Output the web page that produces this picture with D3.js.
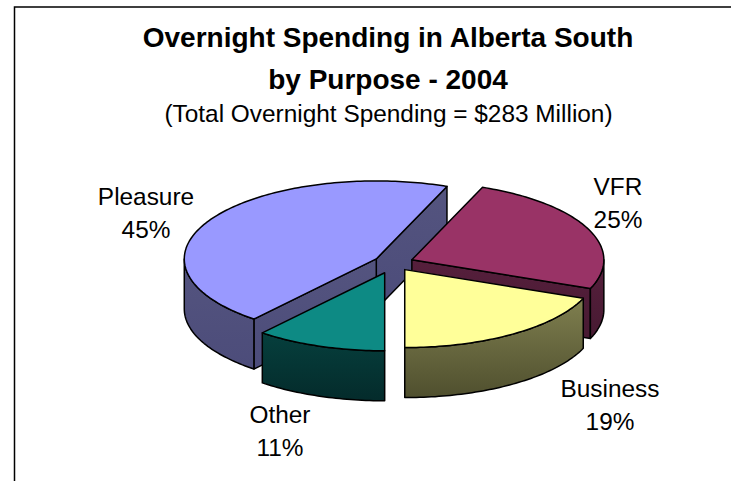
<!DOCTYPE html>
<html>
<head>
<meta charset="utf-8">
<script src="https://d3js.org/d3.v7.min.js"></script>
<style>
    html, body { margin: 0; padding: 0; background: #fff; }
    svg { display: block; }
    text { font-family: "Liberation Sans", Arial, sans-serif; fill: #000; }
</style>
</head>
<body>
<div id="chart"></div>
<script>
// chart values
var purposes = ["Pleasure", "VFR", "Business", "Other"];
var shares = [45, 25, 19, 11];
var titleLines = ["Overnight Spending in Alberta South", "by Purpose - 2004"];
var subtitle = "(Total Overnight Spending = $283 Million)";

var topColors = ["#9999ff", "#993366", "#ffff99", "#0d8a84"];
var sideColors = [["#54547f", "#4c4c7a"], ["#561f3c", "#471a32"], ["#7f7f4f", "#4f4f2e"], ["#063f3d", "#042b2b"]];

var svgWidth = 731;
var svgHeight = 481;

// pie geometry
var cx = 393.5, cy = 263;
var rx = 192, ry = 78;
var depth = 50;
var explode = [20, 20, 20, 26];
var firstAngle = 219.6 * Math.PI / 180;

var svg = d3.select("#chart")
    .append("svg")
    .attr("width", svgWidth)
    .attr("height", svgHeight);

var defs = svg.append("defs");
sideColors.forEach(function (c, i) {
    var grad = defs.append("linearGradient")
        .attr("id", "side" + i)
        .attr("x1", 0).attr("y1", 0).attr("x2", 0).attr("y2", 1);
    grad.append("stop").attr("offset", "0%").attr("stop-color", c[0]);
    grad.append("stop").attr("offset", "100%").attr("stop-color", c[1]);
});

// frame, cut off by the bottom and right of the picture
svg.append("path")
    .attr("d", "M14.5," + svgHeight + "V7H" + svgWidth)
    .attr("fill", "none")
    .attr("stroke", "#000")
    .attr("stroke-width", 1.5);

var pie = d3.pie()
    .sort(null)
    .startAngle(firstAngle)
    .endAngle(firstAngle + 2 * Math.PI);

var slices = pie(shares);

// angle is clockwise from the top, squashed into an ellipse
function pointAt(center, angle) {
    return [center[0] + rx * Math.sin(angle), center[1] - ry * Math.cos(angle)];
}

function centerOf(d) {
    var mid = (d.startAngle + d.endAngle) / 2;
    return [cx + explode[d.index] * Math.sin(mid), cy - explode[d.index] * 0.4 * Math.cos(mid)];
}

function arcPoints(center, a0, a1) {
    var steps = Math.max(2, Math.ceil(Math.abs(a1 - a0) / 0.02));
    return d3.range(steps + 1).map(function (i) {
        return pointAt(center, a0 + (a1 - a0) * i / steps);
    });
}

var line = d3.line();

var groups = svg.selectAll("g.slice")
    .data(slices)
    .enter()
    .append("g")
    .attr("class", "slice");

groups.each(function (d, i) {
    var g = d3.select(this);
    var c = centerOf(d);
    var s = pointAt(c, d.startAngle);
    var e = pointAt(c, d.endAngle);

    function wall(pts) {
        var lower = pts.slice().reverse().map(function (p) { return [p[0], p[1] + depth]; });
        g.append("path")
            .attr("d", line(pts.concat(lower)) + "Z")
            .attr("fill", "url(#side" + i + ")")
            .attr("stroke", "#000")
            .attr("stroke-width", 1.5)
            .attr("stroke-linejoin", "round");
    }

    // cut faces turned towards the viewer
    if (Math.sin(d.endAngle) > 0.01) wall([c, e]);
    if (i === 0) wall([s, c]);

    // outer rim: only the part on the front half of the ellipse
    var shift = d.startAngle >= 2 * Math.PI ? 2 * Math.PI : 0;
    var from = Math.max(d.startAngle - shift, Math.PI / 2);
    var to = Math.min(d.endAngle - shift, 3 * Math.PI / 2);
    if (to > from) wall(arcPoints(c, from, to));

    // top of the slice
    g.append("path")
        .attr("d", line([c].concat(arcPoints(c, d.startAngle, d.endAngle))) + "Z")
        .attr("fill", topColors[i])
        .attr("stroke", "#000")
        .attr("stroke-width", 1.5)
        .attr("stroke-linejoin", "round");
});

// titles
svg.selectAll("text.title")
    .data(titleLines)
    .enter()
    .append("text")
    .attr("class", "title")
    .attr("x", 388)
    .attr("y", function (d, i) { return 47 + i * 42; })
    .attr("text-anchor", "middle")
    .attr("font-size", "28px")
    .attr("font-weight", "bold")
    .text(function (d) { return d; });

svg.append("text")
    .attr("x", 388.5)
    .attr("y", 122)
    .attr("text-anchor", "middle")
    .attr("font-size", "24.4px")
    .text(subtitle);

// labels
var labelX = [146, 618, 610, 280];
var labelY = [205, 195, 397, 423];
purposes.forEach(function (name, i) {
    var t = svg.append("text")
        .attr("text-anchor", "middle")
        .attr("font-size", "24.4px");
    t.append("tspan").attr("x", labelX[i]).attr("y", labelY[i]).text(name);
    t.append("tspan").attr("x", labelX[i]).attr("y", labelY[i] + 33).text(shares[i] + "%");
});
</script>
</body>
</html>
